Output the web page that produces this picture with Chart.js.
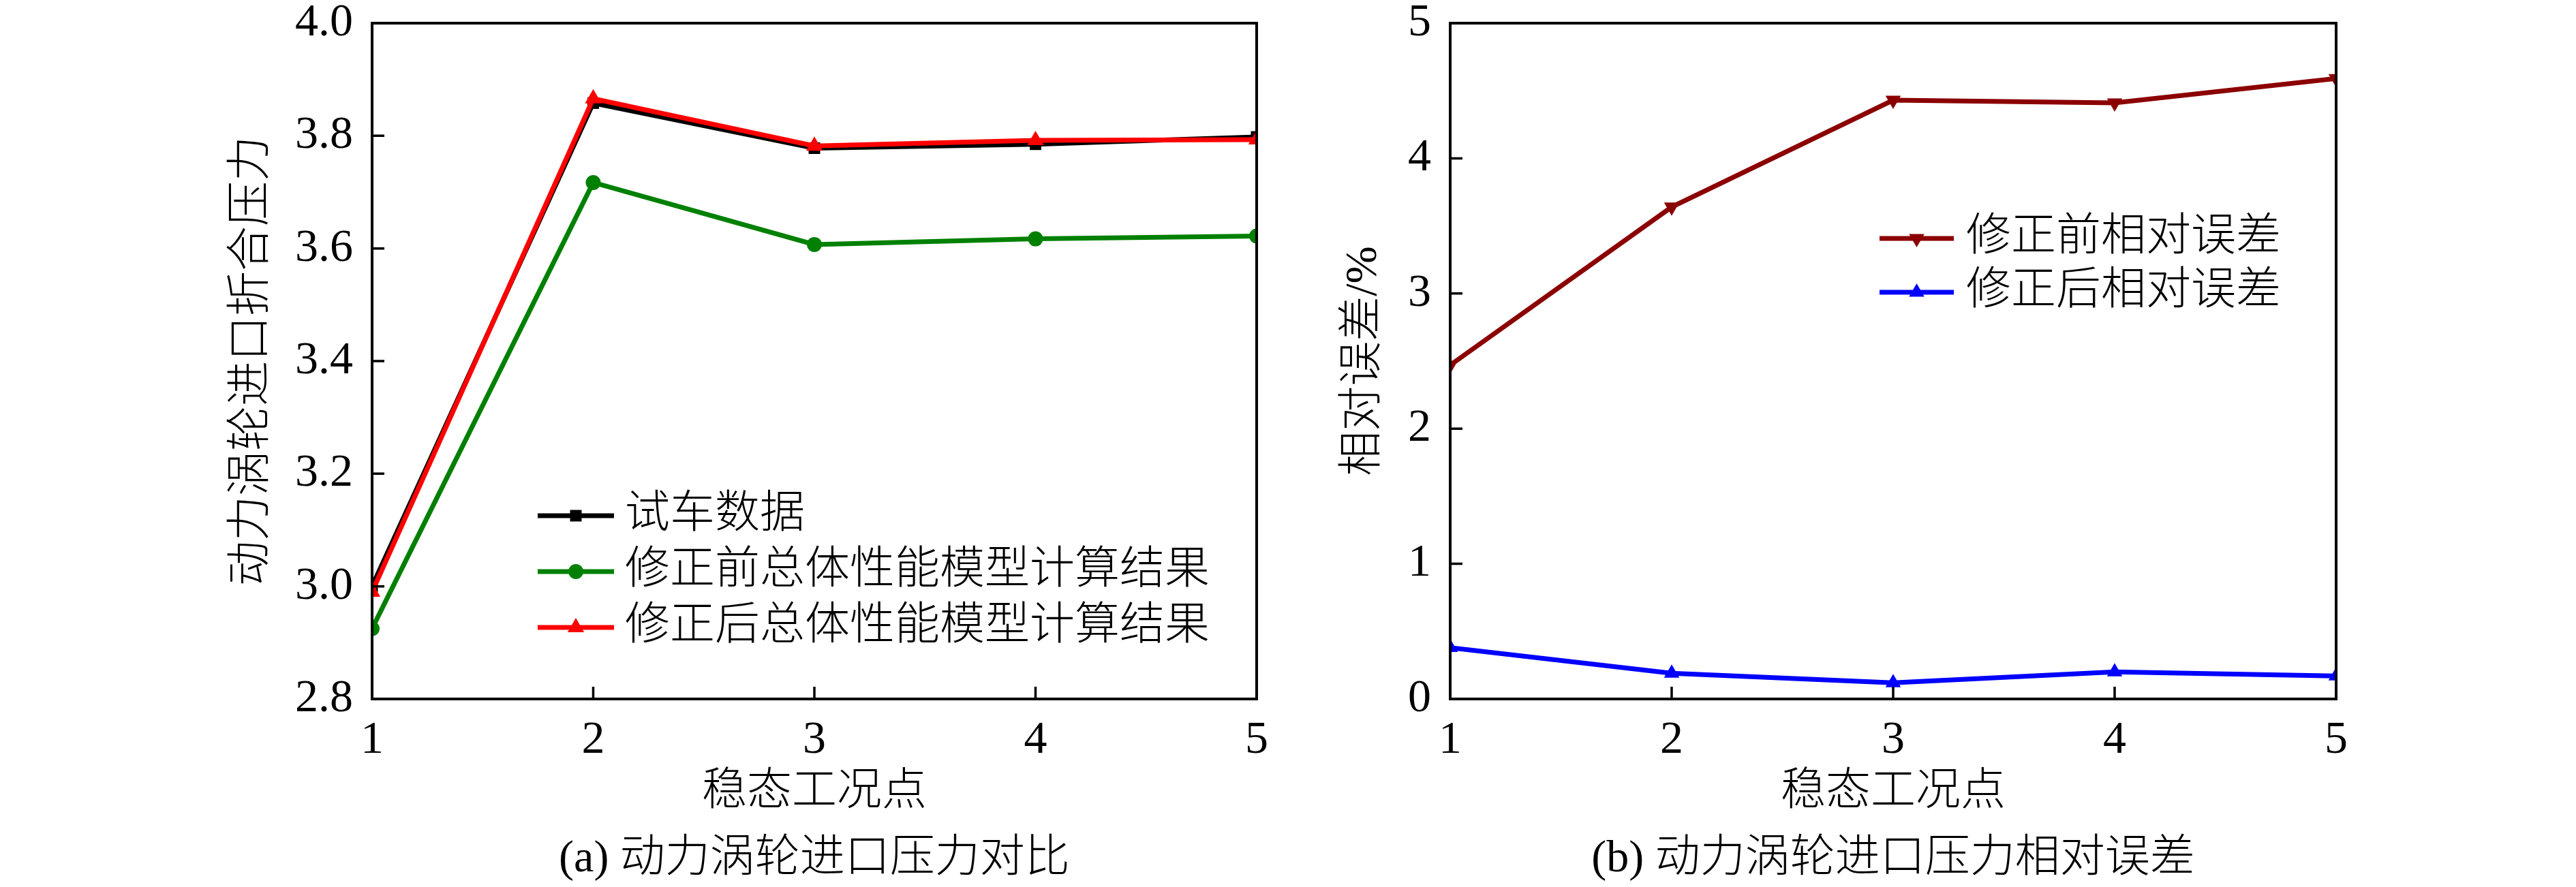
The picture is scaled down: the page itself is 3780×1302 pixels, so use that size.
<!DOCTYPE html>
<html>
<head>
<meta charset="utf-8">
<script src="https://cdn.jsdelivr.net/npm/chart.js@4.4.1/dist/chart.umd.min.js"></script>
<style>
  html, body { margin: 0; padding: 0; background: #fff; }
  body { width: 3780px; height: 1302px; position: relative; overflow: hidden; }
  .box { position: absolute; top: 0; height: 1302px; }
  .caption {
    position: absolute; top: 1217px; line-height: 80px; white-space: nowrap;
    transform: translateX(-50%);
    font-family: "Liberation Serif", "Noto Sans CJK SC", serif; font-size: 66px; font-weight: 300; color: #000;
  }
</style>
</head>
<body>
<div class="box" style="left:0;width:1900px"><canvas id="chart-a"></canvas></div>
<div class="box" style="left:1900px;width:1880px"><canvas id="chart-b"></canvas></div>
<div class="caption" style="left:1195px">(a) 动力涡轮进口压力对比</div>
<div class="caption" style="left:2778px">(b) 动力涡轮进口压力相对误差</div>

<script>
/* ============================================================
   DATA
   ============================================================ */
const points = ['1', '2', '3', '4', '5'];

// (a) pressure
const testData    = [3.00, 3.858, 3.778, 3.785, 3.798];
const beforeModel = [2.925, 3.717, 3.607, 3.617, 3.622];
const afterModel  = [2.99, 3.866, 3.782, 3.792, 3.793];
const pressureTicks = { min: 2.8, max: 4.0, step: 0.2 };

// (b) relative error
const errBefore = [2.47, 3.64, 4.43, 4.41, 4.59];
const errAfter  = [0.38, 0.19, 0.12, 0.20, 0.17];
const errorTicks = { min: 0, max: 5, step: 1 };

/* ============================================================
   SHARED STYLE
   ============================================================ */
const FONT = '"Liberation Serif", "Noto Sans CJK SC", serif';
const FS = 66;
const TICK_FS = 68;

// frame + inward ticks
const framePlugin = {
    id: 'frame',
    afterDatasetsDraw(chart) {
        const { ctx, chartArea: a } = chart;
        const xs = chart.scales.x, ys = chart.scales.y;
        ctx.save();
        ctx.strokeStyle = '#000';
        ctx.lineWidth = 4;
        ctx.strokeRect(a.left, a.top, a.right - a.left, a.bottom - a.top);
        ctx.beginPath();
        xs.ticks.forEach((t, i) => {
            const px = xs.getPixelForTick(i);
            if (px <= a.left + 2 || px >= a.right - 2) return;
            ctx.moveTo(px, a.bottom); ctx.lineTo(px, a.bottom - 18);
        });
        ys.ticks.forEach((t, i) => {
            const py = ys.getPixelForTick(i);
            if (py <= a.top + 2 || py >= a.bottom - 2) return;
            ctx.moveTo(a.left, py); ctx.lineTo(a.left + 18, py);
        });
        ctx.lineWidth = 3.5;
        ctx.stroke();
        ctx.restore();
    }
};

// legend drawn inside the plot: line sample, marker, label
const boxLegend = {
    id: 'boxLegend',
    afterDraw(chart, args, opts) {
        const ctx = chart.ctx;
        ctx.save();
        chart.data.datasets.forEach((ds, i) => {
            const y = opts.y0 + i * opts.gap;
            ctx.strokeStyle = ds.borderColor;
            ctx.lineWidth = ds.borderWidth;
            ctx.beginPath(); ctx.moveTo(opts.x0, y); ctx.lineTo(opts.x1, y); ctx.stroke();
            ctx.fillStyle = ds.borderColor;
            Chart.helpers.drawPoint(ctx, {
                pointStyle: ds.pointStyle, radius: ds.pointRadius,
                rotation: ds.pointRotation || 0, borderWidth: 0
            }, (opts.x0 + opts.x1) / 2, y);
            ctx.fillStyle = '#000';
            ctx.font = '300 ' + FS + 'px ' + FONT;
            ctx.textBaseline = 'middle';
            ctx.textAlign = 'left';
            ctx.fillText(ds.label, opts.tx, y);
        });
        ctx.restore();
    }
};

function line(label, data, color, style, radius, order, rotation) {
    return {
        label, data, order,
        borderColor: color, backgroundColor: color,
        pointBackgroundColor: color, pointBorderWidth: 0,
        pointStyle: style, pointRadius: radius, pointRotation: rotation || 0,
        borderWidth: 7, tension: 0, clip: 0
    };
}

function makeChart(id, datasets, ticks, fmt, yTitle, dims, legend) {
    return new Chart(document.getElementById(id), {
        type: 'line',
        data: { labels: points, datasets },
        plugins: [framePlugin, boxLegend],
        options: {
            responsive: true, maintainAspectRatio: false, animation: false,
            layout: { padding: { top: 34, right: dims.right, bottom: 0, left: 0 } },
            plugins: { legend: { display: false }, tooltip: { enabled: false }, boxLegend: legend },
            scales: {
                x: {
                    type: 'category', offset: false,
                    grid: { display: false, drawTicks: false },
                    border: { display: false },
                    ticks: { color: '#000', padding: 20, maxRotation: 0, font: { family: FONT, size: TICK_FS } },
                    title: { display: true, text: '稳态工况点', color: '#000', padding: { bottom: 99 },
                             font: { family: FONT, size: FS, weight: 300, lineHeight: 1.2 } },
                    afterFit(s) { s.height = 276; s.paddingLeft = 0; s.paddingRight = 0; }
                },
                y: {
                    min: ticks.min, max: ticks.max,
                    grid: { display: false, drawTicks: false },
                    border: { display: false },
                    ticks: { stepSize: ticks.step, color: '#000', padding: 28, callback: fmt,
                             font: { family: FONT, size: TICK_FS } },
                    title: { display: true, text: yTitle, color: '#000', padding: { top: dims.titleX - 39.6, bottom: 0 },
                             font: { family: FONT, size: FS, weight: 300, lineHeight: 1.2 } },
                    afterFit(s) { s.width = dims.axis; s.paddingTop = 0; s.paddingBottom = 0; }
                }
            }
        }
    });
}

/* ============================================================
   (a) PRESSURE
   ============================================================ */
makeChart('chart-a', [
    line('试车数据', testData, '#000000', 'rect', 12, 2),
    line('修正前总体性能模型计算结果', beforeModel, '#008000', 'circle', 11, 3),
    line('修正后总体性能模型计算结果', afterModel, '#ff0000', 'triangle', 14, 1)
], pressureTicks, v => v.toFixed(1), '动力涡轮进口折合压力',
   { axis: 546, right: 56, titleX: 371 },
   { x0: 789, x1: 901, tx: 917, y0: 757, gap: 82 });

/* ============================================================
   (b) RELATIVE ERROR
   ============================================================ */
makeChart('chart-b', [
    line('修正前相对误差', errBefore, '#8b0000', 'triangle', 13, 1, 180),
    line('修正后相对误差', errAfter, '#0000ff', 'triangle', 13, 2)
], errorTicks, v => String(Math.round(v)), '相对误差/%',
   { axis: 228, right: 352, titleX: 102 },
   { x0: 858, x1: 967, tx: 985, y0: 350, gap: 79 });
</script>
</body>
</html>
